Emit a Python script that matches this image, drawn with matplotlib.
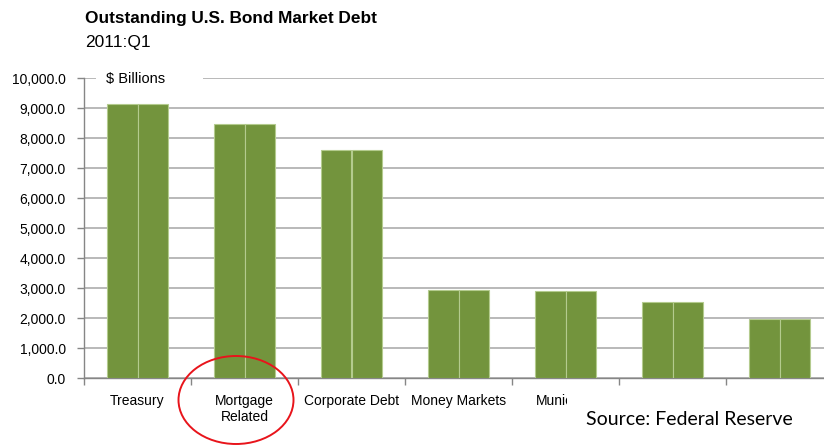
import matplotlib
matplotlib.use("Agg")
import matplotlib.pyplot as plt
from matplotlib.patches import Rectangle, Ellipse
import numpy as np

categories = ["Treasury", "Mortgage\nRelated", "Corporate Debt", "Money Markets",
              "Municipal", "Federal Agency", "Asset-Backed"]
values = [9130, 8450, 7590, 2930, 2900, 2520, 1970]
yticks = [0, 1000, 2000, 3000, 4000, 5000, 6000, 7000, 8000, 9000, 10000]

plt.rcParams['font.family'] = ['Liberation Sans', 'DejaVu Sans']

W, H = 824, 445
fig = plt.figure(figsize=(W / 100, H / 100), dpi=100)
ax = fig.add_axes([84 / W, 67 / H, 749 / W, 300 / H])

x = np.arange(len(categories))
bw = 0.567
bar_color = '#73943D'
edge_color = '#B4CB8E'
ax.bar(x - bw / 4, values, bw / 2, color=bar_color, edgecolor=edge_color, linewidth=0.8, zorder=3)
ax.bar(x + bw / 4, values, bw / 2, color=bar_color, edgecolor=edge_color, linewidth=0.8, zorder=3)

ax.set_xlim(-0.5, len(categories) - 0.5)
ax.set_ylim(0, 10000)
ax.set_yticks(yticks)
ax.set_yticklabels([f"{v:,.1f}" for v in yticks], fontsize=10)
ax.yaxis.grid(True, color='#A6A6A6', linewidth=1.1, zorder=0)
ax.set_axisbelow(True)

ax.set_xticks(x)
ax.set_xticklabels(categories, fontsize=10, linespacing=1.2)
ax.set_xticks(np.arange(-0.5, len(categories), 1.0), minor=True)
ax.tick_params(axis='x', which='major', length=0, pad=11.5)
ax.tick_params(axis='x', which='minor', length=5, color='#868686', width=1)
ax.tick_params(axis='y', length=5, color='#868686', width=1, pad=8)

for s in ['top', 'right']:
    ax.spines[s].set_visible(False)
for s in ['left', 'bottom']:
    ax.spines[s].set_color('#868686')
    ax.spines[s].set_linewidth(1)

# "$ Billions" label box over the top gridline
ax.add_patch(Rectangle((12 / 749, 0.98), 107 / 749, 0.04, transform=ax.transAxes,
                       facecolor='white', edgecolor='none', zorder=2, clip_on=False))
ax.text(22 / 749, 0.995, "$ Billions", transform=ax.transAxes, fontsize=10.5,
        va='center', ha='left', zorder=4)

# Title
fig.text(85 / W, 1 - 23 / H, "Outstanding U.S. Bond Market Debt", fontsize=12.4,
         fontweight='bold', va='baseline', ha='left')
fig.text(85 / W, 1 - 47 / H, "2011:Q1", fontsize=12.5, va='baseline', ha='left')

# White box covering lower-right labels, then source note
fig.add_artist(Rectangle((567 / W, 0), 1 - 567 / W, (445 - 386) / H,
                         transform=fig.transFigure, facecolor='white', edgecolor='none', zorder=5))
fig.text(586 / W, 1 - 425 / H, "Source: Federal Reserve", fontsize=14,
         family=['Lato', 'DejaVu Sans'], va='baseline', ha='left', zorder=6)

# Red ellipse annotation
fig.add_artist(Ellipse((236 / W, 45 / H), 115 / W, 88 / H, transform=fig.transFigure,
                       facecolor='none', edgecolor='#E8141B', linewidth=1.4, zorder=7))

fig.savefig("out.png", dpi=100)
